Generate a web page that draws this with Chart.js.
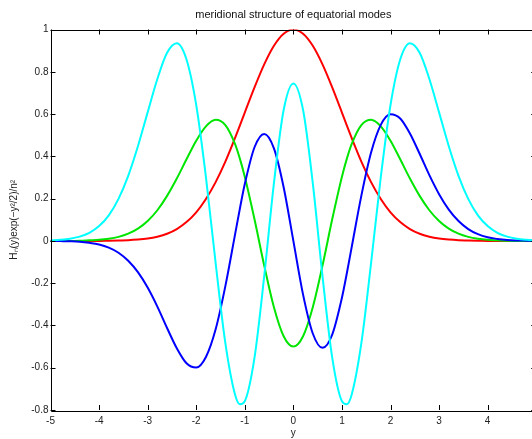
<!DOCTYPE html>
<html>
<head>
<meta charset="utf-8">
<script src="https://cdn.jsdelivr.net/npm/chart.js@4/dist/chart.umd.min.js"></script>
<style>
    html, body { margin: 0; padding: 0; background: #fff; overflow: hidden; }
    #modesChart { display: block; }
</style>
</head>
<body>
<canvas id="modesChart" width="544" height="439"></canvas>

<script>
// y positions (denser near the middle)
const ys = [-5, -4.8, -4.6, -4.4, -4.2, -4, -3.8, -3.6, -3.4, -3.2, -3, -2.8, -2.6, -2.4, -2.2, -2,
    -1.8, -1.6, -1.4, -1.2, -1.1, -1, -0.8, -0.6, -0.4, -0.2, 0, 0.2, 0.4, 0.6, 0.8, 1, 1.1, 1.2,
    1.4, 1.6, 1.8, 2, 2.2, 2.4, 2.6, 2.8, 3, 3.2, 3.4, 3.6, 3.8, 4, 4.2, 4.4, 4.6, 4.8, 5];

// values
const redMode = [0, 0, 0, 0, 0, 0, 0.001, 0.002, 0.003, 0.006, 0.011, 0.020, 0.034, 0.056, 0.089, 0.135,
    0.198, 0.278, 0.375, 0.487, 0.546, 0.607, 0.726, 0.835, 0.923, 0.980, 1, 0.980, 0.923, 0.835, 0.726,
    0.607, 0.546, 0.487, 0.375, 0.278, 0.198, 0.135, 0.089, 0.056, 0.034, 0.020, 0.011, 0.006, 0.003,
    0.002, 0.001, 0, 0, 0, 0, 0, 0];
const greenMode = [0, 0, 0, 0.001, 0.003, 0.005, 0.010, 0.019, 0.034, 0.058, 0.094, 0.145, 0.213, 0.295,
    0.386, 0.474, 0.542, 0.573, 0.548, 0.458, 0.388, 0.303, 0.102, -0.117, -0.314, -0.451, -0.5, -0.451,
    -0.314, -0.117, 0.102, 0.303, 0.388, 0.458, 0.548, 0.573, 0.542, 0.474, 0.386, 0.295, 0.213, 0.145,
    0.094, 0.058, 0.034, 0.019, 0.010, 0.005, 0.003, 0.001, 0, 0, 0];
const blueMode = [0, -0.001, -0.002, -0.004, -0.009, -0.017, -0.032, -0.056, -0.094, -0.148, -0.221,
    -0.311, -0.412, -0.508, -0.579, -0.599, -0.549, -0.418, -0.214, 0.031, 0.154, 0.269, 0.443, 0.506,
    0.438, 0.254, 0, -0.254, -0.438, -0.506, -0.443, -0.269, -0.154, -0.031, 0.214, 0.418, 0.549, 0.599,
    0.579, 0.508, 0.412, 0.311, 0.221, 0.148, 0.094, 0.056, 0.032, 0.017, 0.009, 0.004, 0.002, 0.001, 0];
const cyanMode = [0.002, 0.005, 0.010, 0.020, 0.038, 0.070, 0.121, 0.199, 0.308, 0.448, 0.608, 0.766,
    0.890, 0.935, 0.858, 0.643, 0.302, -0.105, -0.484, -0.728, -0.773, -0.758, -0.552, -0.167, 0.273,
    0.619, 0.745, 0.619, 0.273, -0.167, -0.552, -0.758, -0.773, -0.728, -0.484, -0.105, 0.302, 0.643,
    0.858, 0.935, 0.890, 0.766, 0.608, 0.448, 0.308, 0.199, 0.121, 0.070, 0.038, 0.020, 0.010, 0.005, 0.002];

const xRange = [-5, 5];
const yRange = [-0.8, 1];
const titleText = 'meridional structure of equatorial modes';
const xTitle = 'y';
const yTitle = 'Hₙ(y)exp(−y²/2)/n²';

const FONT = '"Liberation Sans", Arial, sans-serif';

function toPoints(vals) {
    return ys.map((x, i) => ({x: x, y: vals[i]}));
}

function lineSet(vals, color, order) {
    return {
        data: toPoints(vals),
        borderColor: color,
        borderWidth: 2,
        pointRadius: 0,
        cubicInterpolationMode: 'monotone',
        fill: false,
        order: order
    };
}

// matlab style box with inward ticks on all four sides, title over the plot area
const boxPlugin = {
    id: 'boxTicks',
    afterDatasetsDraw(chart) {
        const ctx = chart.ctx;
        const a = chart.chartArea;
        const xs = chart.scales.x, yS = chart.scales.y;
        const len = 5;
        ctx.save();
        ctx.strokeStyle = '#000';
        ctx.lineWidth = 1;
        ctx.beginPath();
        ctx.rect(Math.round(a.left) + 0.5, Math.round(a.top) + 0.5,
            Math.round(a.right - a.left), Math.round(a.bottom - a.top));
        xs.ticks.forEach(t => {
            const px = Math.round(xs.getPixelForValue(t.value)) + 0.5;
            ctx.moveTo(px, a.bottom); ctx.lineTo(px, a.bottom - len);
            ctx.moveTo(px, a.top); ctx.lineTo(px, a.top + len);
        });
        yS.ticks.forEach(t => {
            const py = Math.round(yS.getPixelForValue(t.value)) + 0.5;
            ctx.moveTo(a.left, py); ctx.lineTo(a.left + len, py);
            ctx.moveTo(a.right, py); ctx.lineTo(a.right - len, py);
        });
        ctx.stroke();

        // title
        ctx.fillStyle = '#111';
        ctx.font = '11px ' + FONT;
        ctx.textAlign = 'center';
        ctx.textBaseline = 'middle';
        ctx.fillText(titleText, (a.left + a.right) / 2, 15);
        ctx.restore();
    }
};

new Chart(document.getElementById('modesChart'), {
    type: 'line',
    data: {
        datasets: [
            lineSet(redMode, '#ff0000', 4),
            lineSet(greenMode, '#00e600', 3),
            lineSet(blueMode, '#0000ff', 2),
            lineSet(cyanMode, '#00ffff', 1)
        ]
    },
    options: {
        responsive: false,
        animation: false,
        devicePixelRatio: 1,
        layout: {padding: {left: 0, right: 3, top: 29.5, bottom: 0}},
        plugins: {
            legend: {display: false},
            tooltip: {enabled: false},
            title: {display: false}
        },
        scales: {
            x: {
                type: 'linear',
                min: xRange[0],
                max: xRange[1],
                grid: {display: false, drawTicks: false},
                border: {display: false},
                ticks: {stepSize: 1, color: '#222', padding: 5, font: {family: FONT, size: 10}},
                title: {display: true, text: xTitle, color: '#222', padding: {top: 0, bottom: 0},
                    font: {family: FONT, size: 10}},
                afterFit(s) { s.height = 29; }
            },
            y: {
                min: yRange[0],
                max: yRange[1],
                grid: {display: false, drawTicks: false},
                border: {display: false},
                ticks: {
                    stepSize: 0.2, color: '#222', padding: 2, font: {family: FONT, size: 10},
                    callback: v => String(Math.round(v * 10) / 10)
                },
                title: {display: true, text: yTitle, color: '#222', padding: {top: 8, bottom: 0},
                    font: {family: FONT, size: 10}},
                afterFit(s) { s.width = 50.5; }
            }
        }
    },
    plugins: [boxPlugin]
});
</script>
</body>
</html>
